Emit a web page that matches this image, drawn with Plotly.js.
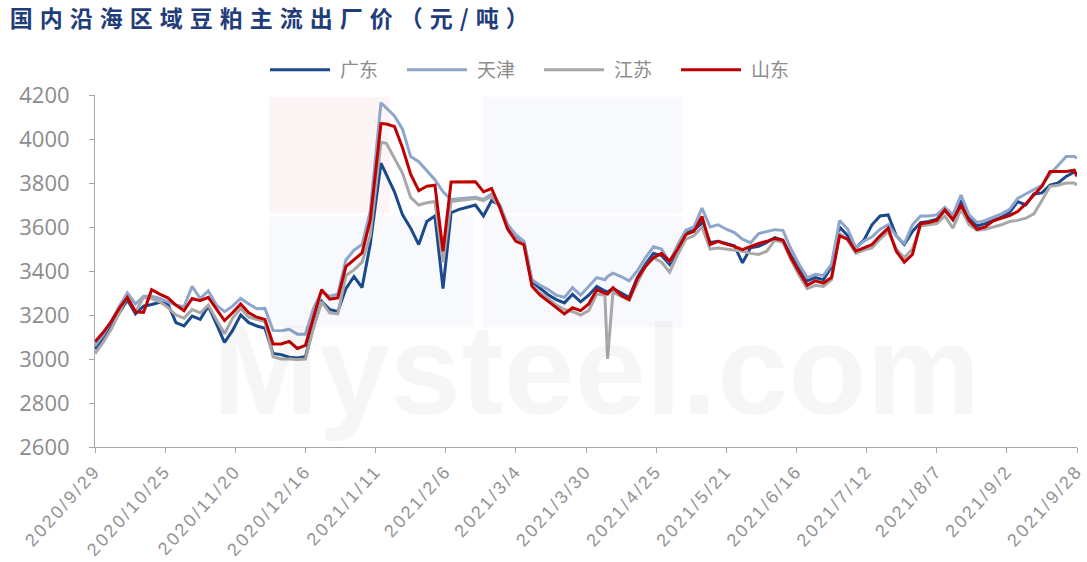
<!DOCTYPE html>
<html><head><meta charset="utf-8">
<script src="https://cdn.plot.ly/plotly-3.0.1.min.js"></script>
<style>html,body{margin:0;padding:0;background:#fff;}#chart{width:1087px;height:562px;}</style>
</head><body><div id="chart"></div>
<script>
const dates = ["2020-09-29","2020-10-02","2020-10-05","2020-10-08","2020-10-11","2020-10-14","2020-10-17","2020-10-20","2020-10-23","2020-10-26","2020-10-29","2020-11-01","2020-11-04","2020-11-07","2020-11-10","2020-11-13","2020-11-16","2020-11-19","2020-11-22","2020-11-25","2020-11-28","2020-12-01","2020-12-04","2020-12-07","2020-12-10","2020-12-13","2020-12-16","2020-12-19","2020-12-22","2020-12-25","2020-12-28","2020-12-31","2021-01-03","2021-01-06","2021-01-09","2021-01-13","2021-01-15","2021-01-18","2021-01-21","2021-01-24","2021-01-27","2021-01-30","2021-02-02","2021-02-05","2021-02-08","2021-02-11","2021-02-14","2021-02-17","2021-02-20","2021-02-23","2021-02-26","2021-03-01","2021-03-04","2021-03-07","2021-03-10","2021-03-13","2021-03-16","2021-03-19","2021-03-22","2021-03-25","2021-03-28","2021-03-31","2021-04-03","2021-04-06","2021-04-07","2021-04-09","2021-04-12","2021-04-15","2021-04-18","2021-04-21","2021-04-24","2021-04-27","2021-04-30","2021-05-03","2021-05-06","2021-05-09","2021-05-12","2021-05-15","2021-05-18","2021-05-21","2021-05-24","2021-05-27","2021-05-30","2021-06-02","2021-06-05","2021-06-08","2021-06-11","2021-06-14","2021-06-17","2021-06-20","2021-06-23","2021-06-26","2021-06-29","2021-07-02","2021-07-05","2021-07-08","2021-07-11","2021-07-14","2021-07-17","2021-07-20","2021-07-23","2021-07-26","2021-07-29","2021-08-01","2021-08-04","2021-08-07","2021-08-10","2021-08-13","2021-08-16","2021-08-19","2021-08-22","2021-08-25","2021-08-28","2021-08-31","2021-09-03","2021-09-06","2021-09-09","2021-09-12","2021-09-15","2021-09-18","2021-09-21","2021-09-24","2021-09-27","2021-09-28"];

const guangdong = [3045,3090,3150,3210,3268,3205,3240,3248,3258,3250,3165,3150,3195,3180,3240,3160,3075,3130,3200,3165,3150,3140,3025,3020,3008,3005,3010,3150,3262,3225,3215,3320,3375,3325,3520,3890,3840,3760,3655,3595,3520,3625,3650,3320,3665,3680,3690,3700,3650,3720,3700,3600,3560,3530,3350,3320,3292,3270,3255,3294,3260,3290,3330,3309,3305,3320,3300,3280,3370,3430,3480,3470,3430,3490,3575,3585,3620,3530,3535,3525,3515,3437,3505,3512,3530,3552,3540,3470,3410,3355,3370,3360,3420,3600,3560,3505,3540,3610,3650,3655,3560,3520,3580,3620,3625,3635,3675,3635,3720,3640,3605,3615,3630,3645,3665,3715,3700,3750,3755,3790,3800,3830,3850,3840];

const tianjin = [3060,3110,3170,3240,3300,3250,3285,3285,3275,3260,3245,3238,3330,3275,3310,3245,3215,3240,3275,3250,3228,3230,3130,3128,3135,3113,3113,3230,3305,3285,3295,3450,3495,3520,3670,4165,4140,4105,4045,3920,3897,3855,3815,3760,3725,3728,3732,3735,3725,3750,3700,3610,3565,3535,3360,3335,3316,3290,3280,3324,3290,3330,3370,3360,3375,3390,3375,3355,3400,3460,3510,3500,3440,3520,3585,3600,3686,3600,3610,3590,3575,3545,3528,3570,3580,3588,3585,3500,3430,3370,3385,3380,3430,3630,3590,3505,3535,3555,3590,3610,3560,3525,3610,3650,3650,3655,3690,3655,3745,3655,3620,3630,3645,3660,3680,3730,3750,3770,3790,3840,3880,3920,3920,3912];

const jiangsu = [3025,3075,3135,3210,3285,3215,3280,3275,3260,3235,3200,3185,3225,3210,3245,3180,3115,3185,3230,3190,3180,3170,3010,3000,3000,2998,3000,3140,3260,3210,3205,3380,3405,3440,3560,3985,3980,3915,3844,3735,3700,3710,3716,3440,3716,3720,3725,3730,3720,3740,3690,3590,3545,3520,3335,3300,3275,3245,3225,3215,3200,3220,3295,3290,3000,3305,3285,3268,3345,3420,3460,3440,3395,3475,3545,3560,3600,3500,3505,3500,3495,3490,3480,3475,3490,3540,3530,3450,3380,3320,3335,3330,3360,3570,3540,3480,3495,3505,3545,3580,3500,3460,3500,3605,3610,3615,3650,3595,3680,3610,3585,3590,3600,3610,3625,3630,3640,3660,3720,3785,3790,3800,3800,3790];

const shandong = [3078,3120,3170,3230,3280,3215,3212,3315,3295,3278,3245,3220,3275,3265,3280,3230,3175,3210,3250,3210,3190,3180,3068,3068,3080,3048,3062,3190,3315,3272,3278,3420,3450,3482,3630,4070,4068,4057,3960,3840,3765,3785,3790,3490,3805,3806,3806,3806,3760,3775,3690,3590,3535,3520,3330,3290,3262,3235,3205,3233,3220,3250,3315,3298,3295,3324,3290,3270,3365,3420,3460,3480,3445,3500,3565,3580,3648,3520,3535,3522,3512,3497,3512,3525,3535,3548,3540,3460,3395,3335,3355,3345,3370,3560,3545,3490,3505,3520,3560,3595,3490,3440,3475,3615,3620,3630,3678,3633,3700,3630,3590,3600,3628,3640,3652,3670,3705,3745,3785,3852,3852,3852,3858,3830];

const seriesNames = ["广东","天津","江苏","山东"];
const seriesColors = ["#1a4a8d","#8ea6cc","#a8a8a8","#c00000"];
const tickDates = ["2020-09-29","2020-10-25","2020-11-20","2020-12-16","2021-01-11","2021-02-06","2021-03-04","2021-03-30","2021-04-25","2021-05-21","2021-06-16","2021-07-12","2021-08-07","2021-09-02","2021-09-28"];
const tickLabels = ["2020/9/29","2020/10/25","2020/11/20","2020/12/16","2021/1/11","2021/2/6","2021/3/4","2021/3/30","2021/4/25","2021/5/21","2021/6/16","2021/7/12","2021/8/7","2021/9/2","2021/9/28"];
const titleText = "国内沿海区域豆粕主流出厂价（元/吨）";

const allValues = [guangdong, tianjin, jiangsu, shandong];
const traces = allValues.map((vals, i) => ({
  type: "scatter", mode: "lines", name: seriesNames[i],
  x: dates, y: vals,
  line: {color: seriesColors[i], width: 3}
}));

const gray = "#8c8c8c";
const layout = {
  width: 1087, height: 562,
  paper_bgcolor: "#fff", plot_bgcolor: "rgba(0,0,0,0)",
  margin: {l: 95, r: 10, t: 95, b: 115},
  title: {text: titleText, x: 0.009, xanchor: "left", y: 0.966, yanchor: "middle",
          font: {family: "Noto Sans CJK SC", size: 23, color: "#1f3d7a", weight: 700}},
  showlegend: true,
  legend: {orientation: "h", x: 0.178, xanchor: "left", y: 1.071, yanchor: "middle",
           entrywidth: 137, entrywidthmode: "pixels",
           font: {family: "Noto Sans CJK SC", size: 19, color: gray}, tracegroupgap: 0},
  xaxis: {type: "date", range: ["2020-09-29", "2021-09-28"], tickvals: tickDates, ticktext: tickLabels,
          tickangle: -48, tickfont: {family: "Liberation Sans", size: 18, color: "#939393"},
          showline: true, linecolor: "#a6a6a6", linewidth: 1, ticks: "outside", ticklen: 5, tickcolor: "#a6a6a6",
          showgrid: false, zeroline: false, fixedrange: true},
  yaxis: {range: [2600, 4200], dtick: 200, tick0: 2600,
          tickfont: {family: "Open Sans", size: 22, color: gray}, ticklabelstandoff: 15,
          showline: true, linecolor: "#a6a6a6", linewidth: 1, ticks: "outside", ticklen: 5, tickcolor: "#a6a6a6",
          showgrid: false, zeroline: false},
  shapes: [
    {type: "rect", xref: "paper", yref: "paper", x0: 0.177, x1: 0.30, y0: 0.665, y1: 0.995, fillcolor: "rgba(230,120,120,0.07)", line: {width: 0}, layer: "below"},
    {type: "rect", xref: "paper", yref: "paper", x0: 0.395, x1: 0.598, y0: 0.665, y1: 0.995, fillcolor: "rgba(120,140,190,0.05)", line: {width: 0}, layer: "below"},
    {type: "rect", xref: "paper", yref: "paper", x0: 0.177, x1: 0.385, y0: 0.34, y1: 0.655, fillcolor: "rgba(120,140,190,0.05)", line: {width: 0}, layer: "below"},
    {type: "rect", xref: "paper", yref: "paper", x0: 0.395, x1: 0.598, y0: 0.34, y1: 0.655, fillcolor: "rgba(120,140,190,0.05)", line: {width: 0}, layer: "below"}
  ],
  annotations: [
    {text: "Mysteel.com", xref: "paper", yref: "paper", x: 0.51, y: 0.22, xanchor: "center", yanchor: "middle",
     showarrow: false, font: {family: "Liberation Sans", size: 128, color: "rgba(0,0,0,0.035)", weight: 700}}
  ]
};

Plotly.newPlot("chart", traces, layout, {displayModeBar: false, staticPlot: true}).then(gd => {
  const t = gd.querySelector(".gtitle");
  if (t) t.style.letterSpacing = "7px";
  gd.querySelectorAll(".xtick text").forEach(tx => { tx.style.letterSpacing = "2.5px"; });
  gd.querySelectorAll(".legend [clip-path]").forEach(el => el.removeAttribute("clip-path"));
  const items = Array.from(gd.querySelectorAll(".legend .traces"));
  const stride = 137;
  items.forEach((g, i) => {
    const m = /translate\(([-\d.]+)[ ,]+([-\d.]+)\)/.exec(g.getAttribute("transform") || "");
    const ty = m ? parseFloat(m[2]) : 0;
    g.setAttribute("transform", "translate(" + (i * stride) + "," + ty + ")");
    const p = g.querySelector("path.js-line");
    if (p) p.setAttribute("d", "M0,0h60");
    const tx = g.querySelector("text.legendtext");
    if (tx) tx.setAttribute("x", "70");
  });
  if (items.length) {
    const p0 = items[0].querySelector("path.js-line");
    const left = p0.getBoundingClientRect().left;
    const shift = 270 - left;
    items.forEach((g) => {
      const m = /translate\(([-\d.]+)[ ,]+([-\d.]+)\)/.exec(g.getAttribute("transform"));
      g.setAttribute("transform", "translate(" + (parseFloat(m[1]) + shift) + "," + m[2] + ")");
    });
  }
});
</script></body></html>
